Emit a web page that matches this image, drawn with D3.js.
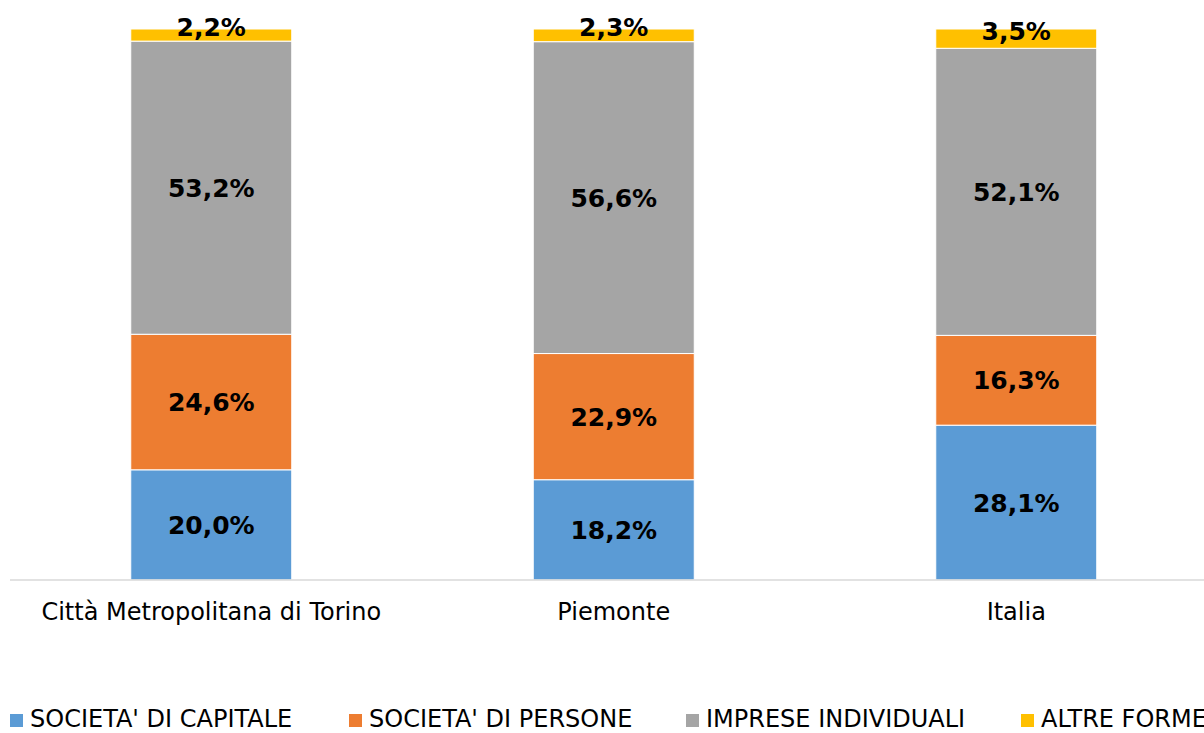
<!DOCTYPE html>
<html lang="en">
<head>
<meta charset="utf-8">
<title>Forme giuridiche</title>
<style>
  body { margin: 0; background: #fff; }
  svg { display: block; font-family: "DejaVu Sans", Verdana, sans-serif; }
</style>
</head>
<body>
<script src="https://cdn.jsdelivr.net/npm/d3@7"></script>
<script>
var categories = ["Città Metropolitana di Torino", "Piemonte", "Italia"];
var seriesNames = ["SOCIETA' DI CAPITALE", "SOCIETA' DI PERSONE", "IMPRESE INDIVIDUALI", "ALTRE FORME"];
var colors = ["#5b9bd5", "#ed7d31", "#a5a5a5", "#ffc000"];
var capitale = [20.0, 18.2, 28.1];
var persone = [24.6, 22.9, 16.3];
var individuali = [53.2, 56.6, 52.1];
var altre = [2.2, 2.3, 3.5];

var width = 1204, height = 733;
var svg = d3.select("body").append("svg")
    .attr("width", width)
    .attr("height", height);

var rows = categories.map(function(c, i) {
  return { cat: c, s0: capitale[i], s1: persone[i], s2: individuali[i], s3: altre[i] };
});
var stack = d3.stack().keys(["s0", "s1", "s2", "s3"]);
var layers = stack(rows);

var x = d3.scaleBand()
    .domain(categories)
    .range([10, 1217.5])
    .paddingInner(0.6)
    .paddingOuter(0.3);
var y = d3.scaleLinear()
    .domain([0, 100])
    .range([580, 29]);

// bars
var groups = svg.selectAll(".layer")
    .data(layers)
    .enter().append("g")
    .attr("fill", function(d, i) { return colors[i]; });

groups.selectAll("rect")
    .data(function(d) { return d; })
    .enter().append("rect")
    .attr("x", function(d) { return x(d.data.cat); })
    .attr("width", x.bandwidth())
    .attr("y", function(d) { return y(d[1]); })
    .attr("height", function(d) { return y(d[0]) - y(d[1]); })
    .attr("stroke", "#fff")
    .attr("stroke-width", 1);

// labels (top series labels sit a bit higher, as in the original)
groups.each(function(layer, li) {
  d3.select(this).selectAll("text")
    .data(layer)
    .enter().append("text")
    .attr("x", function(d) { return x(d.data.cat) + x.bandwidth() / 2; })
    .attr("y", function(d) {
      var mid = (y(d[0]) + y(d[1])) / 2;
      return li === 3 ? mid - 8 : mid;
    })
    .attr("dy", "0.36em")
    .attr("text-anchor", "middle")
    .attr("font-size", 25)
    .attr("font-weight", "bold")
    .attr("fill", "#000")
    .text(function(d) { return d3.format(".1f")(d[1] - d[0]).replace(".", ",") + "%"; });
});

// x axis
var xAxis = svg.append("g")
    .attr("transform", "translate(0,580)")
    .call(d3.axisBottom(x).tickSize(0).tickPadding(23));
xAxis.select(".domain").attr("stroke", "#d9d9d9").attr("stroke-width", 1.5)
    .attr("d", "M10,0H1204");
xAxis.selectAll("text")
    .attr("font-size", 24)
    .attr("font-family", "DejaVu Sans, sans-serif")
    .attr("fill", "#000");

// legend
var legendX = [10, 349, 686, 1021];
var legend = svg.selectAll(".legend")
    .data(seriesNames)
    .enter().append("g")
    .attr("transform", function(d, i) { return "translate(" + legendX[i] + ",714)"; });
legend.append("rect")
    .attr("width", 13)
    .attr("height", 13)
    .attr("fill", function(d, i) { return colors[i]; });
legend.append("text")
    .attr("x", 20)
    .attr("y", 13)
    .attr("font-size", 24)
    .attr("fill", "#000")
    .text(function(d) { return d; });
</script>
</body>
</html>
